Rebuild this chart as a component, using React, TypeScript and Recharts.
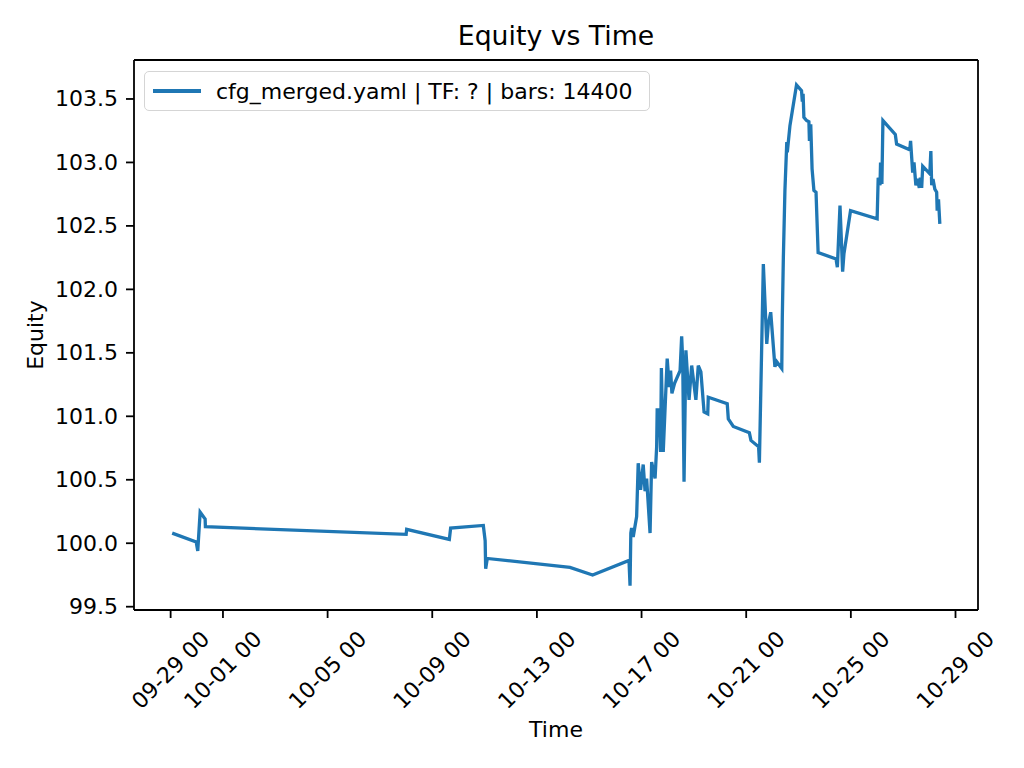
import React from 'react'
import { LineChart, Line, XAxis, YAxis, ReferenceLine } from 'recharts'

// days since 09-29 00:00
const days = [
  0.06, 0.977, 1.037, 1.128, 1.319, 1.329, 9.002, 9.022, 10.653, 10.703,
  11.952, 12.022, 12.042, 12.103, 15.264, 16.13, 17.52, 17.56, 17.59, 17.62,
  17.681, 17.812, 17.872, 17.963, 18.063, 18.134, 18.194, 18.325, 18.386, 18.517,
  18.577, 18.597, 18.678, 18.728, 18.758, 18.829, 18.98, 19.06, 19.111, 19.161,
  19.262, 19.473, 19.533, 19.574, 19.624, 19.695, 19.815, 19.916, 20.077, 20.168,
  20.268, 20.389, 20.53, 20.55, 21.275, 21.316, 21.507, 22.121, 22.182, 22.474,
  22.504, 22.655, 22.786, 22.846, 22.937, 23.098, 23.168, 23.36, 23.38, 23.42,
  23.48, 23.551, 23.571, 23.672, 23.923, 24.115, 24.145, 24.175, 24.205, 24.306,
  24.397, 24.417, 24.467, 24.518, 24.588, 24.669, 24.749, 25.434, 25.484, 25.585,
  25.686, 25.736, 25.988, 27.005, 27.045, 27.115, 27.135, 27.186, 27.226, 27.699,
  27.749, 28.253, 28.283, 28.364, 28.414, 28.485, 28.545, 28.616, 28.656, 28.707,
  28.747, 29.018, 29.058, 29.089, 29.139, 29.21, 29.28, 29.3, 29.35, 29.401,
]

const equity = [
  100.08, 100.01, 99.94, 100.245, 100.19, 100.13, 100.07, 100.11, 100.03, 100.12,
  100.14, 100.02, 99.80, 99.88, 99.81, 99.75, 99.865, 99.665, 100.08, 100.12,
  100.05, 100.21, 100.63, 100.42, 100.62, 100.41, 100.51, 100.08, 100.64, 100.51,
  100.76, 101.05, 101.05, 100.72, 101.38, 100.72, 101.455, 101.23, 101.36, 101.18,
  101.26, 101.36, 101.63, 101.44, 100.485, 101.52, 101.13, 101.40, 101.13, 101.40,
  101.35, 101.035, 101.02, 101.15, 101.10, 100.98, 100.92, 100.87, 100.81, 100.76,
  100.635, 102.20, 101.57, 101.73, 101.82, 101.39, 101.43, 101.376, 101.78, 102.25,
  102.78, 103.16, 103.08, 103.29, 103.61, 103.565, 103.48, 103.54, 103.355, 103.33,
  103.32, 103.17, 103.30, 102.95, 102.78, 102.765, 102.29, 102.24, 102.175, 102.66,
  102.14, 102.28, 102.62, 102.556, 102.88, 102.82, 103.0, 102.83, 103.33, 103.22,
  103.145, 103.10, 103.17, 102.92, 103.0, 102.82, 102.87, 102.80, 102.88, 102.80,
  102.97, 102.91, 103.09, 102.82, 102.87, 102.79, 102.765, 102.62, 102.71, 102.516,
]

const xTickDays = [0, 2, 6, 10, 14, 18, 22, 26, 30]
const xTickLabels = ['09-29 00', '10-01 00', '10-05 00', '10-09 00', '10-13 00', '10-17 00', '10-21 00', '10-25 00', '10-29 00']
const yTicks = [99.5, 100.0, 100.5, 101.0, 101.5, 102.0, 102.5, 103.0, 103.5]

const seriesName = 'cfg_merged.yaml | TF: ? | bars: 14400'

const data = days.map((d, i) => ({ t: d, equity: equity[i] }))

const X_DOMAIN = [-1.4, 30.86]
const Y_DOMAIN = [99.474, 103.807]

const FONT = '"DejaVu Sans", sans-serif'
const BLUE = '#1f77b4'
const PLOT_BOTTOM = 610

const XTick = (props: any) => {
  const { x, payload } = props
  const idx = xTickDays.indexOf(payload.value)
  const cy = PLOT_BOTTOM + 16 + 44
  return (
    <text
      x={x}
      y={cy}
      textAnchor="middle"
      dominantBaseline="central"
      transform={`rotate(-45, ${x}, ${cy})`}
      fontSize={22}
      fontFamily={FONT}
      fill="#000"
    >
      {idx >= 0 ? xTickLabels[idx] : ''}
    </text>
  )
}

const YTick = (props: any) => {
  const { y, payload } = props
  return (
    <text x={118} y={y} textAnchor="end" dominantBaseline="central" fontSize={22} fontFamily={FONT} fill="#000">
      {Number(payload.value).toFixed(1)}
    </text>
  )
}

const axisStroke = { stroke: '#000', strokeWidth: 1.8 }

export default function App() {
  return (
    <div style={{ position: 'absolute', left: 0, top: 0, width: 1024, height: 768, background: '#fff', fontFamily: FONT }}>
      <LineChart width={1024} height={768} data={data} margin={{ top: 60, right: 46, bottom: 58, left: 64 }}>
        <XAxis
          xAxisId="main"
          dataKey="t"
          type="number"
          domain={X_DOMAIN}
          allowDataOverflow
          ticks={xTickDays}
          interval={0}
          height={100}
          tickSize={8}
          axisLine={axisStroke}
          tickLine={axisStroke}
          tick={<XTick />}
        />
        <YAxis
          yAxisId="main"
          type="number"
          domain={Y_DOMAIN}
          allowDataOverflow
          ticks={yTicks}
          interval={0}
          width={70}
          tickSize={8}
          axisLine={axisStroke}
          tickLine={axisStroke}
          tick={<YTick />}
        />
        <ReferenceLine xAxisId="main" yAxisId="main" y={Y_DOMAIN[1]} stroke="#000" strokeWidth={1.8} ifOverflow="extendDomain" />
        <ReferenceLine xAxisId="main" yAxisId="main" x={X_DOMAIN[1]} stroke="#000" strokeWidth={1.8} ifOverflow="extendDomain" />
        <Line
          xAxisId="main"
          yAxisId="main"
          type="linear"
          dataKey="equity"
          name={seriesName}
          stroke={BLUE}
          strokeWidth={3.3}
          dot={false}
          isAnimationActive={false}
        />
      </LineChart>

      <div style={{ position: 'absolute', left: 0, width: 1112, top: 20, textAlign: 'center', fontSize: 26.7, lineHeight: '32px', color: '#000' }}>
        Equity vs Time
      </div>
      <div style={{ position: 'absolute', left: 0, width: 1112, top: 716, textAlign: 'center', fontSize: 22, lineHeight: '28px', color: '#000' }}>
        Time
      </div>
      <div
        style={{
          position: 'absolute',
          left: 36 - 100,
          top: 335 - 14,
          width: 200,
          height: 28,
          lineHeight: '28px',
          textAlign: 'center',
          fontSize: 22,
          color: '#000',
          transform: 'rotate(-90deg)',
        }}
      >
        Equity
      </div>

      <div
        style={{
          position: 'absolute',
          left: 144,
          top: 71,
          width: 506,
          height: 40,
          boxSizing: 'border-box',
          border: '1.5px solid #d5d5d5',
          borderRadius: 5,
          background: 'rgba(255,255,255,0.8)',
          display: 'flex',
          alignItems: 'center',
        }}
      >
        <div style={{ width: 48, height: 3.3, background: BLUE, marginLeft: 8, marginRight: 15 }} />
        <span style={{ fontSize: 22, whiteSpace: 'nowrap', color: '#000' }}>{seriesName}</span>
      </div>
    </div>
  )
}
